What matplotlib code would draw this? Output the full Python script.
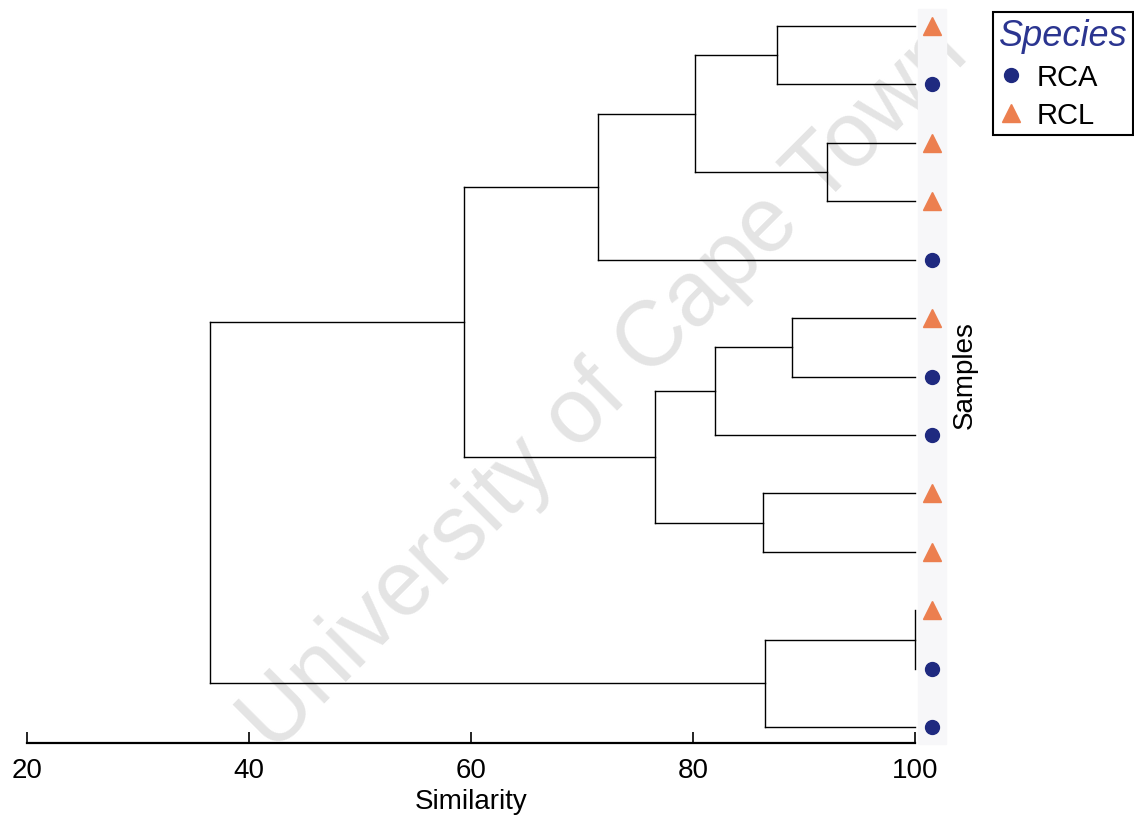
import matplotlib as mpl
mpl.use('Agg')
import matplotlib.pyplot as plt
from matplotlib.lines import Line2D

plt.rcParams['font.family'] = ['Liberation Sans', 'DejaVu Sans']

# samples, top to bottom as they sit at the tips of the tree
species = ['RCL', 'RCA', 'RCL', 'RCL', 'RCA', 'RCL', 'RCA',
           'RCA', 'RCL', 'RCL', 'RCL', 'RCA', 'RCA']

# merges: (child a, child b, similarity %) - new nodes are numbered from 13 on
merges = [
    (0, 1, 87.6),
    (2, 3, 92.1),
    (13, 14, 80.2),
    (15, 4, 71.4),
    (5, 6, 88.9),
    (17, 7, 82.0),
    (8, 9, 86.3),
    (18, 19, 76.6),
    (16, 20, 59.4),
    (10, 11, 100.0),
    (22, 12, 86.5),
    (21, 23, 36.5),
]

ticks = [20, 40, 60, 80, 100]

colors = {'RCA': '#1f2a80', 'RCL': '#ec7f4f'}
markers = {'RCA': 'o', 'RCL': '^'}
msize = {'RCA': 10, 'RCL': 13}

fig = plt.figure(figsize=(11.34, 8.2), dpi=100)
ax = fig.add_axes([0, 0, 1, 1])
ax.set_xlim(17.57, 119.73)
ax.set_ylim(13.57, -0.46)

# watermark sits behind everything
ax.text(72.1, 6.2, 'University of Cape Town', rotation=45, fontsize=66,
        color='#e4e4e4', ha='center', va='center', rotation_mode='anchor',
        zorder=0)

# faint strip behind the sample symbols
ax.axvspan(100.27, 102.8, ymin=0.091, ymax=0.988, color='#f7f7f9', zorder=0.5)

# draw the dendrogram: tips at 100 % similarity, nodes at their merge level
xs = [100.0] * len(species)
ys = list(range(len(species)))
for a, b, s in merges:
    for c in (a, b):
        ax.plot([xs[c], s], [ys[c], ys[c]], color='black', lw=1.0, zorder=2)
    ax.plot([s, s], [ys[a], ys[b]], color='black', lw=1.0, zorder=2)
    xs.append(s)
    ys.append((ys[a] + ys[b]) / 2)

for sp in ['RCA', 'RCL']:
    idx = [i for i, s in enumerate(species) if s == sp]
    ax.plot([101.5] * len(idx), idx, ls='none', marker=markers[sp],
            ms=msize[sp], color=colors[sp], zorder=3)

# axis
for side in ['top', 'right', 'left']:
    ax.spines[side].set_visible(False)
ax.spines['bottom'].set_position(('data', 12.27))
ax.spines['bottom'].set_bounds(20, 100)
ax.spines['bottom'].set_linewidth(1.6)
ax.set_xticks(ticks)
ax.set_yticks([])
ax.tick_params(axis='x', direction='in', length=8, width=1.2,
               labelsize=20, pad=10)

ax.text(60, 13.27, 'Similarity', ha='center', va='center', fontsize=20)
ax.text(104.5, 5.96, 'Samples', rotation=90, ha='center', va='center',
        fontsize=20)

handles = [Line2D([], [], ls='none', marker=markers[sp], ms=msize[sp],
                  color=colors[sp], label=sp) for sp in ['RCA', 'RCL']]
leg = ax.legend(handles=handles, title='Species', loc='upper left',
                bbox_to_anchor=(993 / 1134, 1 - 13 / 820),
                bbox_transform=fig.transFigure, frameon=True, fancybox=False,
                edgecolor='black', framealpha=1, fontsize=21,
                title_fontproperties={'style': 'italic', 'size': 26},
                alignment='left', borderpad=0.2, handletextpad=0.5,
                handlelength=0.8, labelspacing=0.35, borderaxespad=0)
leg.get_title().set_color('#2b3590')
leg.get_frame().set_linewidth(1.5)

fig.savefig('out.png', dpi=100)
